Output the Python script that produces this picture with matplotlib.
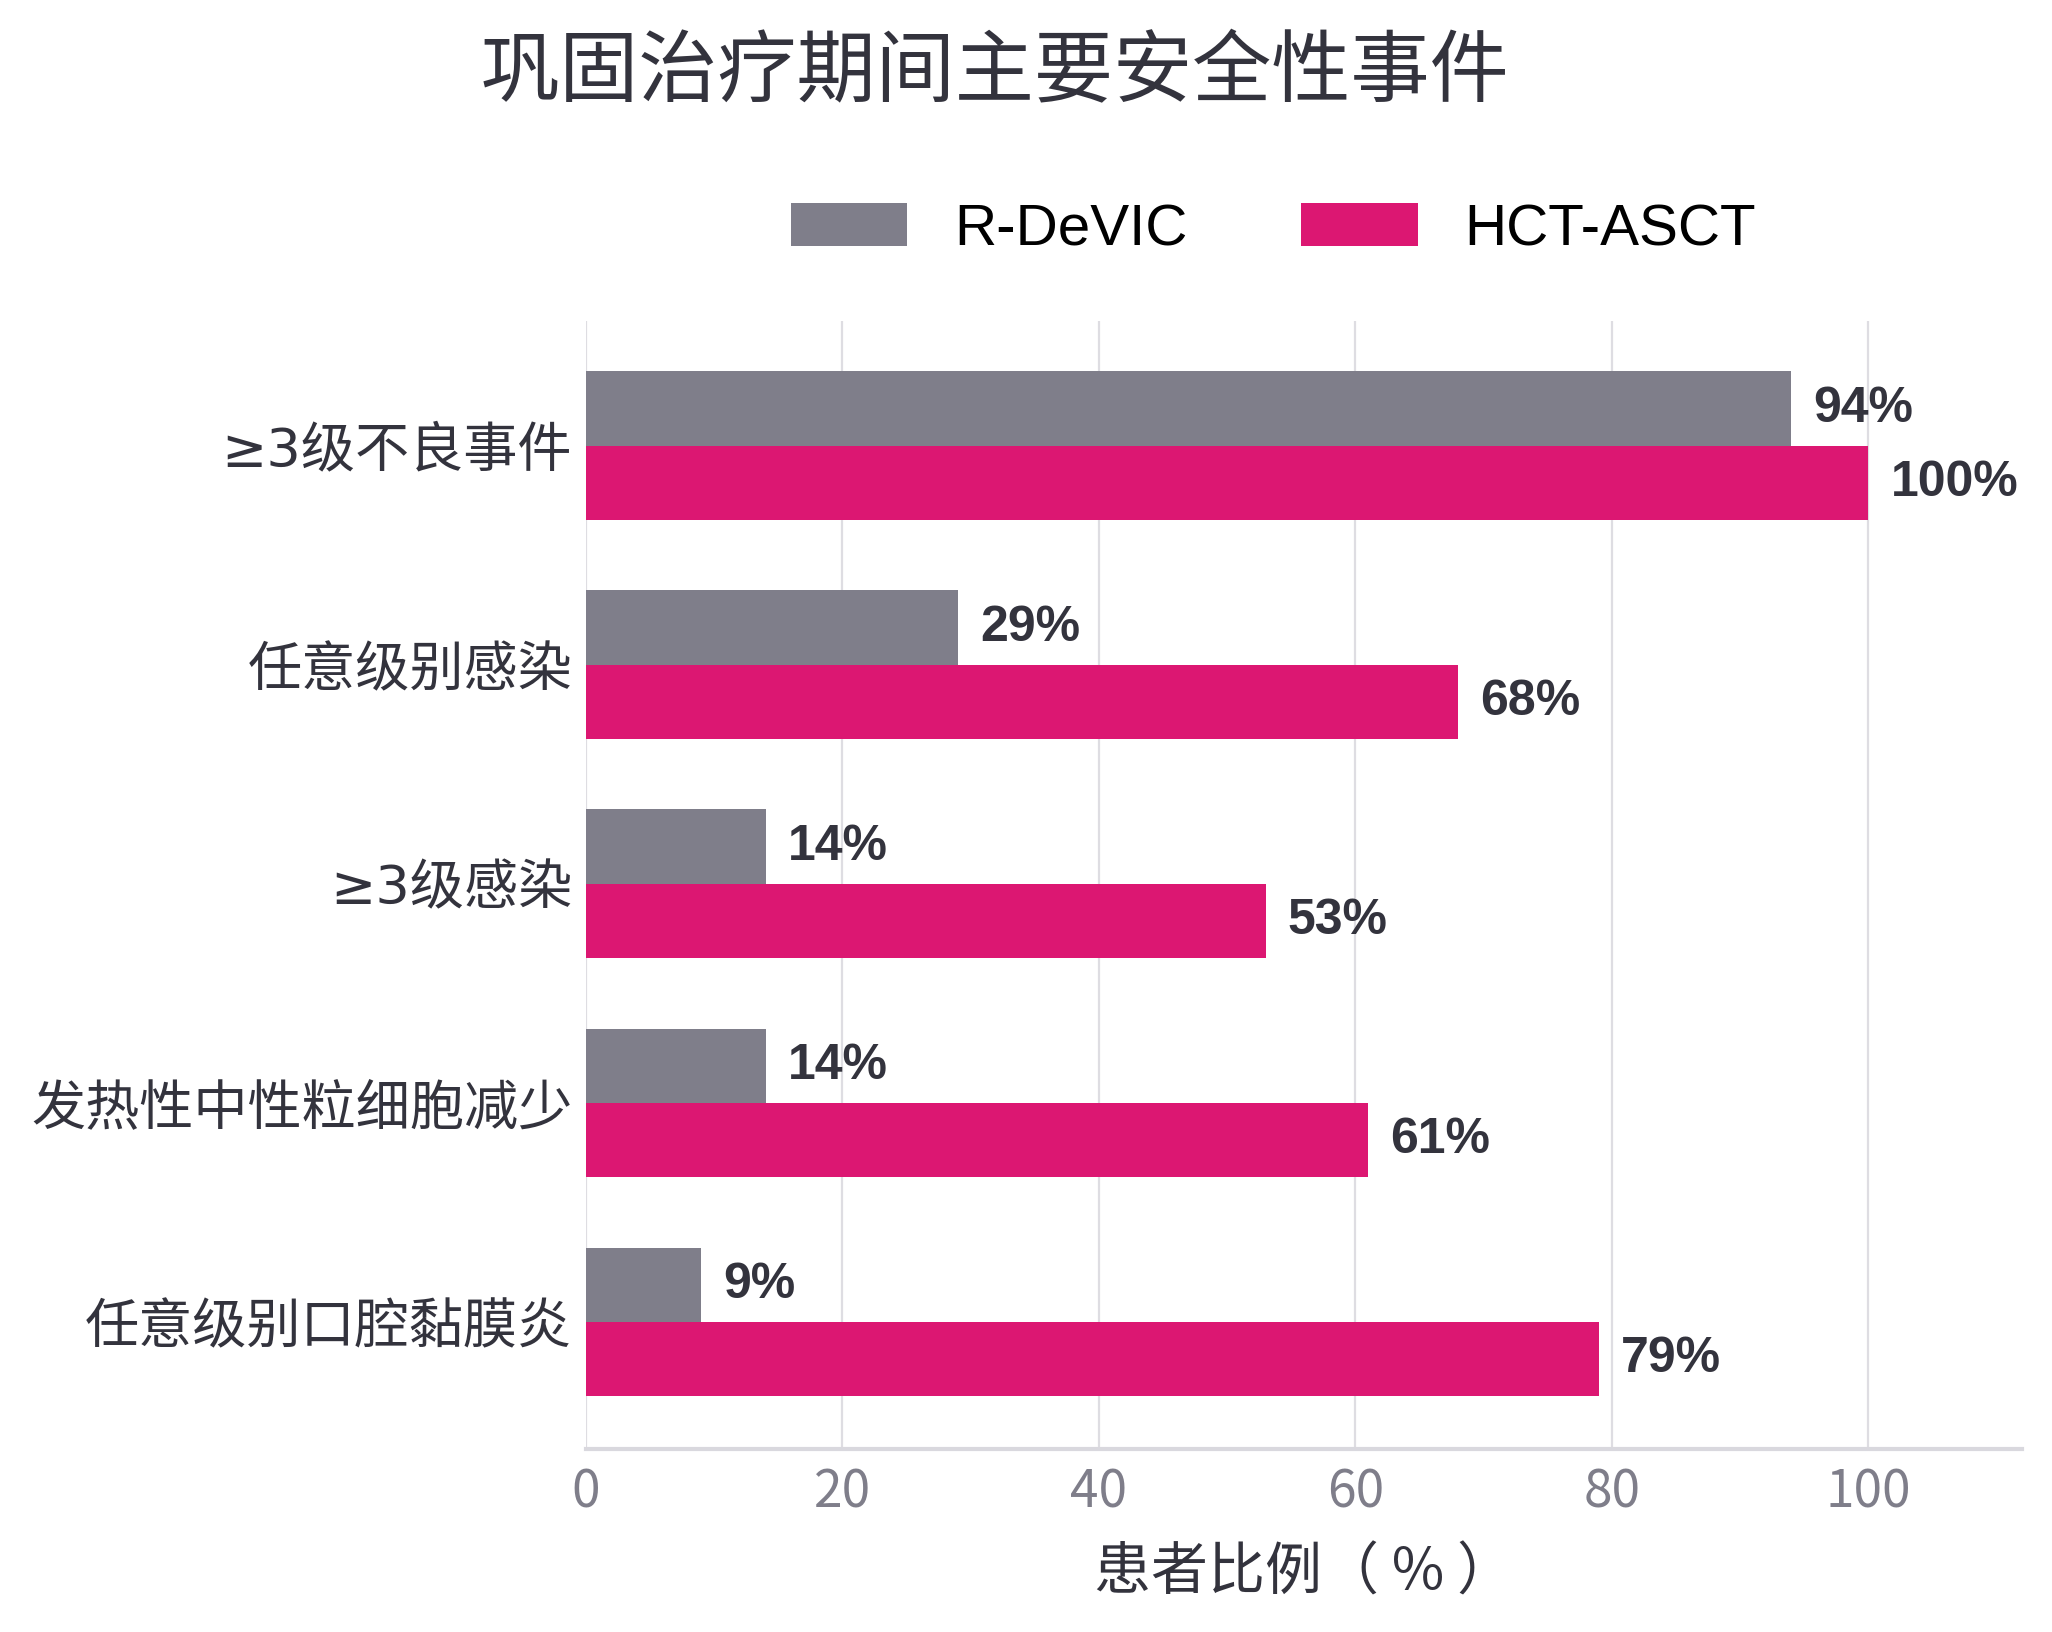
import matplotlib
matplotlib.use("Agg")
import matplotlib.pyplot as plt
import numpy as np

plt.rcParams["font.family"] = ["Noto Sans CJK SC", "DejaVu Sans"]

categories = ["≥3级不良事件", "任意级别感染", "≥3级感染", "发热性中性粒细胞减少", "任意级别口腔黏膜炎"]
r_devic = [94, 29, 14, 14, 9]
hct_asct = [100, 68, 53, 61, 79]
series_names = ["R-DeVIC", "HCT-ASCT"]

GRAY = "#7f7e8a"
PINK = "#dc1772"
DARK = "#33333d"

fig = plt.figure(figsize=(20.52, 16.32), dpi=100)
ax = fig.add_axes([0.2856, 0.1121, 0.6998, 0.6912])

y = np.arange(len(categories))
h = 0.34
b1 = ax.barh(y - h / 2, r_devic, height=h, color=GRAY, label=series_names[0], zorder=3)
b2 = ax.barh(y + h / 2, hct_asct, height=h, color=PINK, label=series_names[1], zorder=3)

for bars, vals in ((b1, r_devic), (b2, hct_asct)):
    for bar, v in zip(bars, vals):
        ax.annotate(f"{v}%", (v, bar.get_y() + bar.get_height() / 2),
                    xytext=(16, 0), textcoords="offset points",
                    ha="left", va="center", fontsize=36, fontweight="bold",
                    color=DARK, family=["Liberation Sans", "DejaVu Sans"], zorder=4)

ax.set_xlim(0, 112)
ax.set_ylim(len(categories) - 0.42, -0.57)
ax.set_yticks(y)
ax.set_yticklabels(categories, fontsize=39, color=DARK,
                   family=["Noto Sans CJK SC", "DejaVu Sans"])
# the ≥ sign is upright in the original, take it from DejaVu
for lbl in ax.get_yticklabels():
    if lbl.get_text().startswith("≥"):
        lbl.set_family(["DejaVu Sans", "Noto Sans CJK SC"])
ax.set_xticks([0, 20, 40, 60, 80, 100])
ax.tick_params(axis="x", labelsize=37, labelcolor="#7f7e8a", length=0, pad=12)
ax.tick_params(axis="y", length=0, pad=10)
ax.xaxis.grid(True, color="#dedde2", linewidth=1.6, zorder=0)
ax.set_axisbelow(True)
for s in ("top", "right", "left"):
    ax.spines[s].set_visible(False)
ax.spines["bottom"].set_color("#d9d8de")
ax.spines["bottom"].set_linewidth(3)

ax.set_xlabel("患者比例（ % ）", fontsize=41, color=DARK, labelpad=18)

fig.text(0.485, 0.955, "巩固治疗期间主要安全性事件", ha="center", va="center",
         fontsize=57, color=DARK)

fig.legend(handles=[b1, b2], labels=series_names, loc="center",
           bbox_to_anchor=(0.6205, 0.859), ncol=2, frameon=False,
           prop={"family": ["Liberation Sans", "DejaVu Sans"], "size": 42},
           handlelength=2.0, handleheight=0.75, handletextpad=0.8, columnspacing=1.95)

fig.savefig("out.png", dpi=100)
